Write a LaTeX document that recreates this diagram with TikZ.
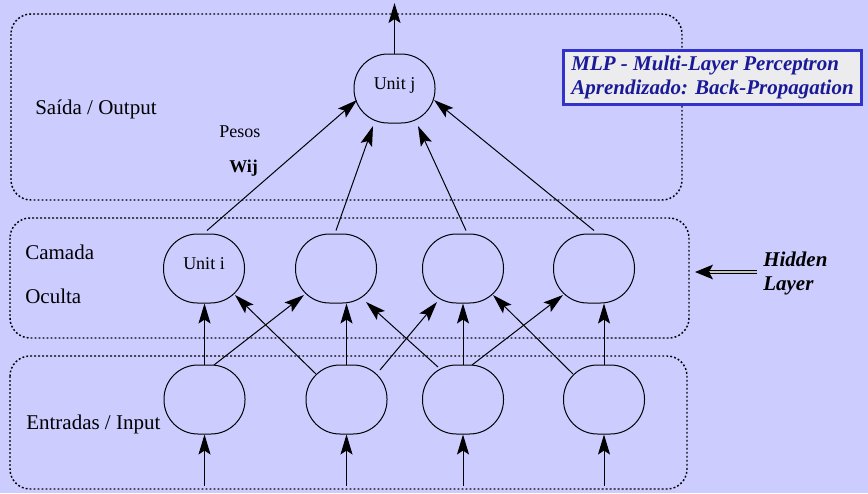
\documentclass[tikz,border=0pt]{standalone}
\usepackage{fontspec}
\setmainfont{Liberation Serif}
\usetikzlibrary{arrows.meta,calc}
\definecolor{bgblue}{RGB}{204,204,255}
\definecolor{titleblue}{RGB}{51,51,204}
\definecolor{titletext}{RGB}{26,26,153}
\definecolor{titlefill}{RGB}{236,236,238}
\begin{document}
\begin{tikzpicture}[
        x=0.75pt, y=-0.75pt,
        >={Stealth[length=15pt,width=9pt,inset=3pt]},
        unit/.style={draw, rectangle, rounded corners=25.5pt, minimum width=60.75pt, minimum height=51.75pt, inner sep=0pt, line width=0.75pt, font=\fontsize{13.5}{16}\selectfont, text height=9pt, text depth=7.5pt},
        layer/.style={line width=1.1pt, dash pattern=on 1.4pt off 1.6pt, rounded corners=15pt},
        lbl/.style={anchor=base west, inner sep=0pt, font=\fontsize{15.75}{18}\selectfont},
        small/.style={anchor=base west, inner sep=0pt, font=\fontsize{13.5}{16}\selectfont},
        conn/.style={->, line width=0.75pt},
        dbl/.style={draw=black, double=gray!45, double distance=1.5pt, line width=0.75pt},
        bigtip/.style={-{Stealth[length=13.5pt,width=11pt,inset=3pt]}, line width=0.75pt},
        titlebox/.style={draw=titleblue, line width=2.25pt, fill=titlefill, minimum width=224pt, minimum height=40pt, align=left, text=titletext, font=\fontsize{15.75}{17.5}\selectfont\bfseries\itshape},
        hidlabel/.style={anchor=west, inner sep=0pt, align=left, font=\fontsize{15.75}{18}\selectfont\bfseries\itshape},
    ]
    \fill[bgblue] (0,0) rectangle (868,493);
    \useasboundingbox (0,0) rectangle (868,493);

    % layers
    \draw[layer] (11,14) rectangle (682,200);
    \draw[layer] (10,218) rectangle (689,338);
    \draw[layer] (10,356) rectangle (687,489);

    \node[lbl] (saida) at (35,114) {Saída / Output};
    \node[small] (pesos) at (219,137.5) {Pesos};
    \node[small] (wij) at (229,172) {\bfseries Wij};
    \node[lbl] (camada) at (25,259) {Camada};
    \node[lbl] (oculta) at (25,303) {Oculta};
    \node[lbl] (entradas) at (26,429) {Entradas / Input};

    % units
    \node[unit] (uj) at (394.5,88.5) {Unit j};
    \node[unit] (hid1) at (204,268.5) {Unit i};
    \node[unit] (hid2) at (336,268.5) {};
    \node[unit] (hid3) at (463,268.5) {};
    \node[unit] (hid4) at (594,268.5) {};
    \node[unit] (in1) at (204.5,399.5) {};
    \node[unit] (in2) at (346.5,399.5) {};
    \node[unit] (in3) at (463,399.5) {};
    \node[unit] (in4) at (604,399.5) {};

    \coordinate (out) at (394.5,3);
    \coordinate (x1) at (204.5,486);
    \coordinate (x2) at (346.5,486);
    \coordinate (x3) at (463,486);
    \coordinate (x4) at (604,486);

    % input arrows
    \draw[conn] (x1) -- (in1);
    \draw[conn] (x2) -- (in2);
    \draw[conn] (x3) -- (in3);
    \draw[conn] (x4) -- (in4);

    % input -> hidden
    \draw[conn] (in1.north) -- (in1.north |- hid1.south);
    \draw[conn] (in2.north) -- (in2.north |- hid2.south);
    \draw[conn] (in3.north) -- (in3.north |- hid3.south);
    \draw[conn] (in4.north) -- (in4.north |- hid4.south);
    \draw[conn] ($(in1)+(9.5,-34.5)$) -- ($(hid2)+(-32,26.5)$);
    \draw[conn] ($(in2)+(-30.5,-25.5)$) -- ($(hid1)+(31,26.5)$);
    \draw[conn] ($(in2)+(33.5,-29.5)$) -- ($(hid3)+(-26,33.5)$);
    \draw[conn] ($(in3)+(-25,-32.5)$) -- ($(hid2)+(30,33.5)$);
    \draw[conn] ($(in3)+(9,-34.5)$) -- ($(hid4)+(-31,26.5)$);
    \draw[conn] ($(in4)+(-31,-25.5)$) -- ($(hid3)+(30,26.5)$);

    % hidden -> output
    \draw[conn] ($(hid1.north)+(3,-3)$) -- ($(uj)+(-37.5,11.5)$);
    \draw[conn] ($(hid2.north)+(0,-3)$) -- ($(uj)+(-21.5,37.5)$);
    \draw[conn] ($(hid3.north)+(3,-3)$) -- ($(uj)+(23.5,37.5)$);
    \draw[conn] ($(hid4.north)+(0,-3)$) -- ($(uj)+(39.5,11.5)$);
    \draw[conn] (uj) -- (out);

    % title and hidden layer note
    \node[titlebox] (title) at (712.5,77.5) {MLP - Multi-Layer Perceptron\\Aprendizado: Back-Propagation};
    \node[hidlabel] (hidlbl) at (763,273) {Hidden\\Layer};
    \coordinate (hidtail) at (757,272);
    \coordinate (hidtip) at (695,272);
    \draw[dbl] (hidtail) -- ($(hidtip)+(12,0)$);
    \draw[bigtip] ($(hidtip)+(14,0)$) -- (hidtip);
\end{tikzpicture}
\end{document}
